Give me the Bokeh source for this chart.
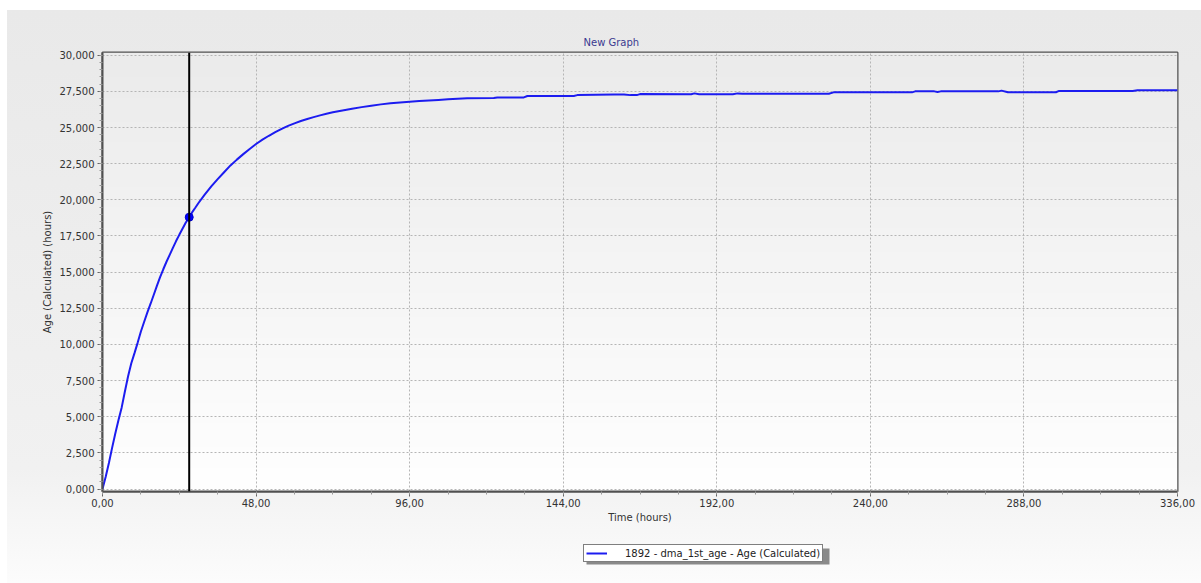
import numpy as np
from bokeh.plotting import figure
from bokeh.layouts import column
from bokeh.models import (Span, SingleIntervalTicker, CustomJSTickFormatter, Legend,
                          LegendItem, BoxAnnotation, Range1d)
from bokeh.embed import file_html
from bokeh.resources import INLINE

# Calculated water age at node 1892 over a two-week run
time_hours = [0, 1, 2, 3, 4, 5, 6, 7, 8, 9, 10, 11, 12, 13, 14, 15, 16, 17, 18, 19,
              20, 21, 22, 23, 24, 25, 26, 27.1, 28, 29, 30, 32, 34, 36, 38, 40, 42, 44,
              46, 48, 50, 52, 54, 56, 58, 60, 62, 64, 66, 68, 70, 72, 75, 78, 81, 84,
              87, 90, 93, 96, 99, 102, 105, 108, 111, 114, 122.3, 123.4, 131.7, 132.8,
              147.3, 148.4, 159.9, 163.0, 165.0, 167.0, 168.0, 184.0, 185.0, 186.5,
              197.0, 198.5, 200.0, 227.0, 228.5, 253.0, 254.0, 260.0, 261.0, 262.0,
              280.0, 281.0, 283.0, 298.0, 299.0, 322.0, 323.5, 336.0]
age_hours = [0, 850, 1800, 2850, 3850, 4780, 5650, 6750, 7800, 8700, 9400, 10130, 10900,
             11550, 12200, 12800, 13420, 14050, 14650, 15200, 15720, 16200, 16680, 17150,
             17580, 18000, 18420, 18800, 19130, 19450, 19780, 20380, 20930, 21430, 21910,
             22380, 22780, 23160, 23520, 23860, 24160, 24430, 24680, 24910, 25110, 25290,
             25450, 25590, 25720, 25840, 25950, 26050, 26180, 26300, 26410, 26510, 26600,
             26670, 26730, 26780, 26830, 26870, 26910, 26950, 26990, 27030, 27040, 27080,
             27080, 27180, 27180, 27240, 27290, 27290, 27240, 27240, 27310, 27300, 27360,
             27300, 27300, 27360, 27330, 27330, 27430, 27430, 27500, 27500, 27460, 27500,
             27500, 27550, 27440, 27440, 27530, 27530, 27570, 27570]

series_label = "1892 - dma_1st_age - Age (Calculated)"
cursor_time = 27.1
cursor_age = 18800

x_start, x_end = 0, 336
y_start, y_end = -166, 30187

FONT = "DejaVu Sans"
TEXT = "#333333"
LINE_COLOR = "#1c1cf0"

p = figure(width=1201, height=535, x_range=(x_start, x_end), y_range=(y_start, y_end),
           output_backend="svg", toolbar_location=None,
           min_border_left=102, min_border_right=24, min_border_top=52, min_border_bottom=44)

# transparent canvas so the page gradient shows through
p.border_fill_color = None
p.background_fill_color = None

# soft vertical shading behind the plot area
n = 128
shade_img = np.empty((n, 1), dtype=np.uint32)
view = shade_img.view(dtype=np.uint8).reshape((n, 1, 4))
shade = np.linspace(255, 235, n).astype(np.uint8)
view[:, 0, 0] = shade
view[:, 0, 1] = shade
view[:, 0, 2] = shade
view[:, 0, 3] = 255
p.image_rgba(image=[shade_img], x=x_start, y=y_start, dw=x_end - x_start,
             dh=y_end - y_start, level="image")

p.title.text = "New Graph"
p.title.align = "left"
p.title.offset = 481
p.title.text_font = FONT
p.title.text_font_size = "10px"
p.title.text_font_style = "normal"
p.title.text_color = "#3a3a90"
p.title.standoff = 9

p.outline_line_color = "#505050"
p.outline_line_width = 2

p.xaxis.ticker = SingleIntervalTicker(interval=48, num_minor_ticks=4)
p.yaxis.ticker = SingleIntervalTicker(interval=2500, num_minor_ticks=5)
p.xaxis.formatter = CustomJSTickFormatter(code="return tick.toFixed(2).replace('.', ',');")
p.yaxis.formatter = CustomJSTickFormatter(code="return (tick/1000).toFixed(3).replace('.', ',');")
p.xaxis.axis_label = "Time (hours)"
p.yaxis.axis_label = "Age (Calculated) (hours)"

for ax in (p.xaxis, p.yaxis):
    ax.axis_line_color = "#505050"
    ax.axis_line_width = 2
    ax.major_tick_line_color = "#666666"
    ax.minor_tick_line_color = "#999999"
    ax.major_tick_in = 0
    ax.minor_tick_in = 0
    ax.major_tick_out = 5
    ax.minor_tick_out = 3
    ax.major_label_text_font = FONT
    ax.major_label_text_font_size = "10px"
    ax.major_label_text_color = TEXT
    ax.axis_label_text_font = FONT
    ax.axis_label_text_font_size = "10px"
    ax.axis_label_text_font_style = "normal"
    ax.axis_label_text_color = TEXT
p.xaxis.major_label_standoff = 2
p.xaxis.axis_label_standoff = 2
p.yaxis.major_label_standoff = 3
p.yaxis.axis_label_standoff = 4

for g in (p.xgrid, p.ygrid):
    g.grid_line_color = "#b5b5b5"
    g.grid_line_dash = "2 2"
    g.grid_line_width = 1

p.line(time_hours, age_hours, line_color=LINE_COLOR, line_width=2)

p.add_layout(Span(location=cursor_time, dimension="height", line_color="black", line_width=2))
p.scatter([cursor_time], [cursor_age], size=8, fill_color="#0000ff", line_color="#0000c8")

# legend strip underneath the chart; its ranges are in page pixels (y runs downward)
leg = figure(width=1201, height=48, x_range=Range1d(102, 1177), y_range=Range1d(583, 535),
             output_backend="svg", toolbar_location=None,
             min_border_left=102, min_border_right=24, min_border_top=0, min_border_bottom=0,
             x_axis_type=None, y_axis_type=None)
leg.grid.visible = False
leg.outline_line_color = None
leg.border_fill_color = None
leg.background_fill_color = None

# style carrier for the legend swatch (holds no visible points)
swatch = leg.line(x=[float("nan")], y=[float("nan")], line_color=LINE_COLOR, line_width=2)

leg.add_layout(BoxAnnotation(left=586, right=829, top=548, bottom=564,
                             fill_color="#8a8a8a", fill_alpha=1.0, line_color=None,
                             level="underlay"))

lg = Legend(items=[LegendItem(label=series_label, renderers=[swatch])], location=(481, 21))
lg.padding = 2
lg.margin = 0
lg.spacing = 0
lg.glyph_width = 21
lg.glyph_height = 12
lg.label_height = 12
lg.label_standoff = 18
lg.label_text_font = FONT
lg.label_text_font_size = "10px"
lg.label_text_color = "#222222"
lg.border_line_color = "black"
lg.border_line_width = 1
lg.background_fill_color = "white"
lg.background_fill_alpha = 1.0
leg.add_layout(lg, "center")

page = column(p, leg, spacing=0)
page.styles = {"background": "linear-gradient(to bottom, #e9e9e9 0%, #f1f1f1 80%, #fcfcfc 100%) "
                             "7px 10px / 1194px 573px no-repeat, #ffffff"}

open("out.html", "w").write(file_html(page, INLINE))
